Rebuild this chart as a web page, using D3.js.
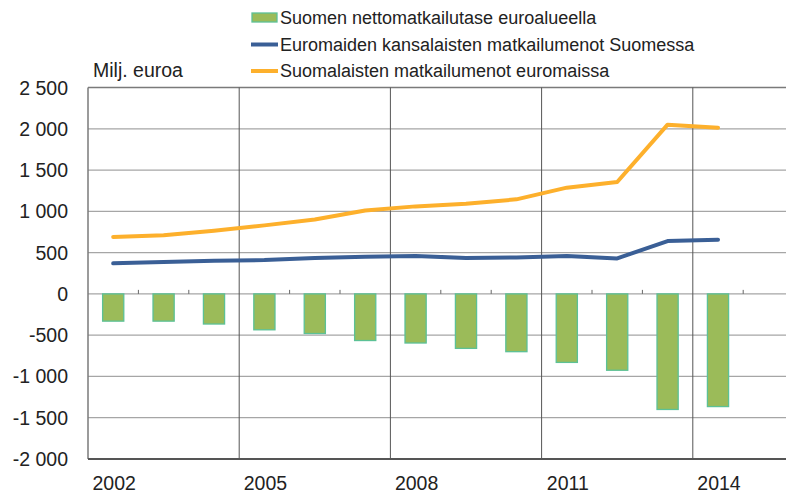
<!DOCTYPE html>
<html>
<head>
<meta charset="utf-8">
<script src="https://cdn.jsdelivr.net/npm/d3@7/dist/d3.min.js"></script>
<style>
  html, body { margin: 0; padding: 0; background: #fff; }
  svg { display: block; font-family: "Liberation Sans", Arial, sans-serif; }
</style>
</head>
<body>
<svg id="chart" width="786" height="500"></svg>
<script>
const years = [2002, 2003, 2004, 2005, 2006, 2007, 2008, 2009, 2010, 2011, 2012, 2013, 2014];
const axisCategories = [2002, 2003, 2004, 2005, 2006, 2007, 2008, 2009, 2010, 2011, 2012, 2013, 2014, 2015];
const netBalance = [-330, -330, -365, -435, -480, -565, -595, -660, -700, -830, -925, -1400, -1365];
const euroResidentsInFinland = [370, 385, 400, 410, 435, 450, 460, 435, 442, 458, 430, 640, 657];
const finnsInEuroArea = [690, 710, 765, 830, 900, 1010, 1060, 1093, 1145, 1287, 1355, 2050, 2013];
const yTicks = [2500, 2000, 1500, 1000, 500, 0, -500, -1000, -1500, -2000];
const xLabelYears = [2002, 2005, 2008, 2011, 2014];
const seriesNames = [
  "Suomen nettomatkailutase euroalueella",
  "Euromaiden kansalaisten matkailumenot Suomessa",
  "Suomalaisten matkailumenot euromaissa"
];
const yUnit = "Milj. euroa";

(function () {
const svg = d3.select("#chart");
const pLeft = 88, pTop = 87.5, pBottom = 459;
const step = 50.4;
const pRight = pLeft + step * axisCategories.length;

const x = d3.scaleBand().domain(axisCategories).range([pLeft, pRight])
  .paddingInner(0.58).paddingOuter(0.29);
const y = d3.scaleLinear().domain([-2000, 2500]).range([pBottom, pTop]);
const cx = d => x(d) + x.bandwidth() / 2;
const boundary = i => pLeft + i * x.step();

const fmt = v => {
  const s = d3.format(",")(Math.abs(v)).replace(/,/g, " ");
  return (v < 0 ? "-" : "") + s;
};

// horizontal gridlines
svg.append("g").selectAll("line").data(yTicks.filter(v => v !== -2000)).join("line")
  .attr("x1", pLeft).attr("x2", pRight)
  .attr("y1", d => y(d)).attr("y2", d => y(d))
  .attr("stroke", d => d === 2500 ? "#7a7a7a" : "#a6a6a6")
  .attr("stroke-width", d => d === 2500 ? 1.5 : 1.3);

// vertical gridlines at every 3rd category boundary
const vIdx = d3.range(0, axisCategories.length + 1).filter(i => i % 3 === 0 && i > 0);
svg.append("g").selectAll("line").data(vIdx).join("line")
  .attr("x1", d => boundary(d)).attr("x2", d => boundary(d))
  .attr("y1", pTop).attr("y2", pBottom)
  .attr("stroke", "#555").attr("stroke-width", 1);

// small ticks on zero line
const tIdx = d3.range(1, axisCategories.length).filter(i => i % 3 !== 0);
svg.append("g").selectAll("line").data(tIdx).join("line")
  .attr("x1", d => boundary(d)).attr("x2", d => boundary(d))
  .attr("y1", y(0) - 4).attr("y2", y(0))
  .attr("stroke", "#666").attr("stroke-width", 1);

// left border
svg.append("line").attr("x1", pLeft).attr("x2", pLeft).attr("y1", pTop).attr("y2", pBottom)
  .attr("stroke", "#7a7a7a").attr("stroke-width", 1.5);

// bars
svg.append("g").selectAll("rect").data(years).join("rect")
  .attr("x", d => x(d))
  .attr("width", x.bandwidth())
  .attr("y", y(0))
  .attr("height", (d, i) => y(netBalance[i]) - y(0))
  .attr("fill", "#9bbb59")
  .attr("stroke", "#5cc196")
  .attr("stroke-width", 1.3);

// bottom axis line
svg.append("line").attr("x1", pLeft).attr("x2", pRight).attr("y1", pBottom).attr("y2", pBottom)
  .attr("stroke", "#555").attr("stroke-width", 2);

// lines
const line = d3.line().x(d => cx(d[0])).y(d => y(d[1]));
svg.append("path")
  .datum(years.map((yr, i) => [yr, euroResidentsInFinland[i]]))
  .attr("d", line).attr("fill", "none")
  .attr("stroke", "#3a5f96").attr("stroke-width", 4).attr("stroke-linejoin", "round").attr("stroke-linecap", "round");
svg.append("path")
  .datum(years.map((yr, i) => [yr, finnsInEuroArea[i]]))
  .attr("d", line).attr("fill", "none")
  .attr("stroke", "#fdb02c").attr("stroke-width", 4).attr("stroke-linejoin", "round").attr("stroke-linecap", "round");

// y tick labels
svg.append("g").selectAll("text").data(yTicks).join("text")
  .attr("x", 68).attr("y", d => y(d)).attr("dy", "0.36em")
  .attr("text-anchor", "end").attr("font-size", 19.5).attr("fill", "#222")
  .text(fmt);

// x tick labels
svg.append("g").selectAll("text").data(xLabelYears).join("text")
  .attr("x", d => cx(d) + 1).attr("y", 490)
  .attr("text-anchor", "middle").attr("font-size", 19.5).attr("fill", "#222")
  .text(d => d);

// unit label
svg.append("text").attr("x", 93).attr("y", 77).attr("font-size", 19.5).attr("fill", "#222").text(yUnit);

// legend
const lg = svg.append("g");
const rowY = [17.5, 44.5, 71];
lg.append("rect").attr("x", 252).attr("y", rowY[0] - 4.5).attr("width", 25).attr("height", 9)
  .attr("fill", "#9bbb59").attr("stroke", "#5cc196").attr("stroke-width", 1.3);
lg.append("line").attr("x1", 251).attr("x2", 278).attr("y1", rowY[1]).attr("y2", rowY[1])
  .attr("stroke", "#3a5f96").attr("stroke-width", 4);
lg.append("line").attr("x1", 251).attr("x2", 278).attr("y1", rowY[2]).attr("y2", rowY[2])
  .attr("stroke", "#fdb02c").attr("stroke-width", 4);
lg.selectAll("text").data(seriesNames).join("text")
  .attr("x", 280).attr("y", (d, i) => rowY[i]).attr("dy", "0.36em")
  .attr("font-size", 18).attr("fill", "#222")
  .text(d => d);
})();
</script>
</body>
</html>
